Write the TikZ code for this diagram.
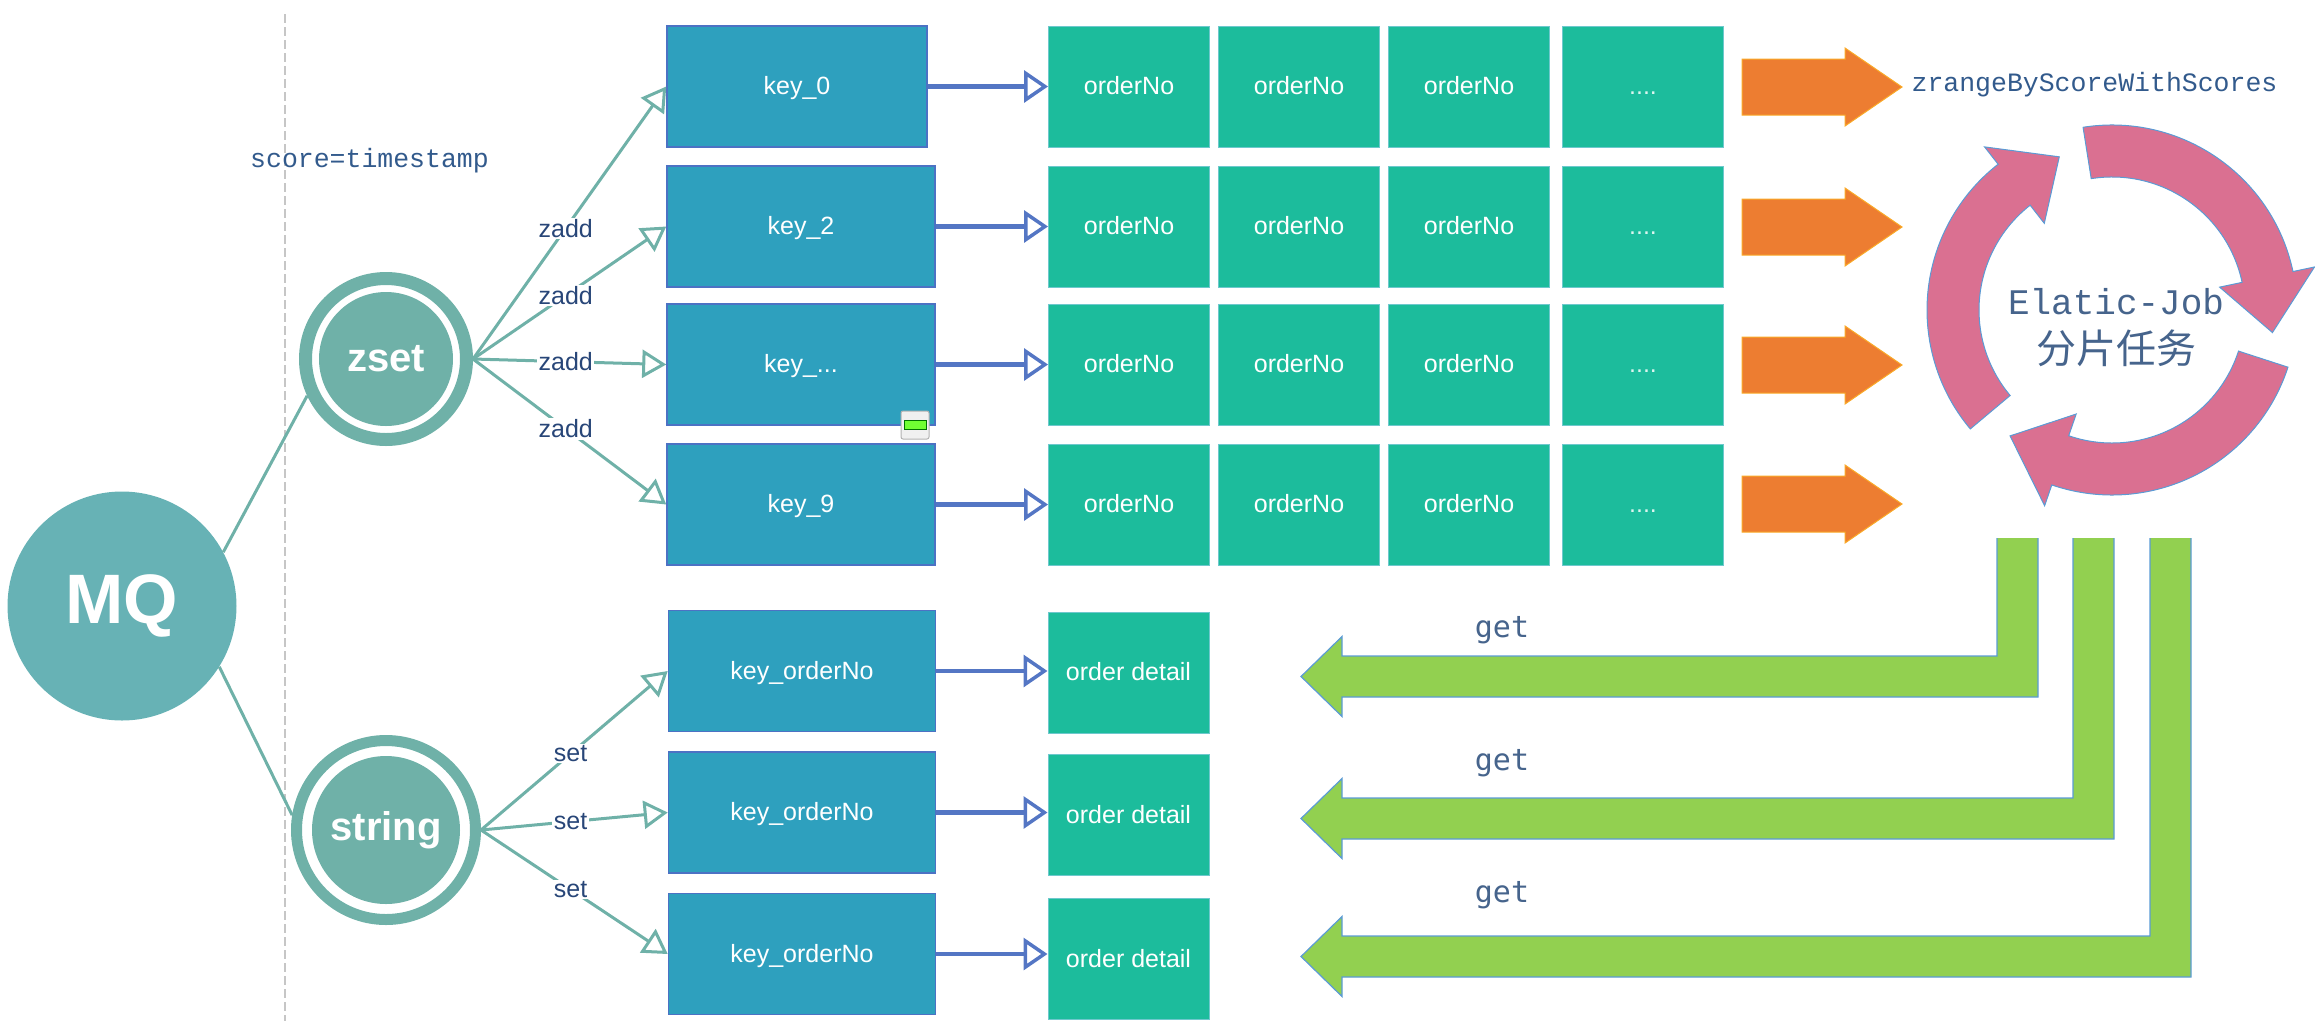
\documentclass[tikz,border=0pt]{standalone}
\usepackage{fontspec}
\setmainfont{Liberation Sans}
\newfontfamily\monofont{Liberation Mono}
\newfontfamily\getfont{DejaVu Sans Mono}
\newfontfamily\cjkfont{Noto Sans CJK SC}
\usetikzlibrary{arrows.meta}
\definecolor{tealc}{RGB}{111,177,168}
\definecolor{mqc}{RGB}{103,178,181}
\definecolor{keyc}{RGB}{46,160,190}
\definecolor{keyedge}{RGB}{76,114,196}
\definecolor{ordc}{RGB}{28,188,156}
\definecolor{ordedge}{RGB}{110,200,205}
\definecolor{linkc}{RGB}{84,118,196}
\definecolor{labc}{RGB}{40,70,120}
\definecolor{codec}{RGB}{50,90,140}
\definecolor{getc}{RGB}{70,100,140}
\definecolor{orangec}{RGB}{237,125,49}
\definecolor{orangeedge}{RGB}{250,170,40}
\definecolor{pinkc}{RGB}{218,112,145}
\definecolor{greenc}{RGB}{146,208,80}
\definecolor{shapeedge}{RGB}{91,155,213}
\begin{document}
\begin{tikzpicture}[x=1pt,y=-1pt,
  hub/.style={circle, inner sep=0pt, text=white, font=\bfseries\fontsize{40}{44}\selectfont},
  keybox/.style={rectangle, inner sep=0pt, fill=keyc, draw=keyedge, line width=1.5pt,
    text=white, font=\fontsize{25}{30}\selectfont, text height=16pt, text depth=0pt,
    minimum width=268pt, minimum height=121pt},
  ordbox/.style={rectangle, inner sep=0pt, fill=ordc, draw=ordedge, line width=1pt,
    text=white, font=\fontsize{25}{30}\selectfont, text height=16pt, text depth=0pt,
    minimum width=161pt, minimum height=121pt},
  feed/.style={draw=tealc, line width=3pt, -{Triangle[open, length=24pt, width=28pt, line width=3pt]}},
  link/.style={draw=linkc, line width=4.5pt, -{Triangle[open, length=24pt, width=32pt, line width=3.5pt]}},
  oplabel/.style={fill=white, inner sep=1.5pt, text=labc, font=\fontsize{25}{30}\selectfont},
  codetext/.style={text=codec, font=\monofont\fontsize{26.5}{30}\selectfont},
  gettext/.style={text=getc, font=\getfont\fontsize{30}{34}\selectfont},
  wire/.style={draw=tealc, line width=3pt}
]
\useasboundingbox (0,0) rectangle (2315,1021);

% dashed divider
\coordinate (divtop) at (285,14);
\coordinate (divbot) at (285,1021);
\draw[gray!45, line width=2pt, dash pattern=on 9pt off 4pt] (divtop) -- (divbot);

\node[codetext] (scorelbl) at (369.5,161) {score=timestamp};

% hubs
\node[hub, fill=mqc, minimum size=229pt, font=\bfseries\fontsize{70}{74}\selectfont] (MQ) at (122,606) {MQ};
\node[hub, draw=tealc, line width=13pt, minimum size=161pt,
  path picture={\fill[tealc] (path picture bounding box.center) circle[radius=67pt];}] (zset) at (386,359) {zset};
\node[hub, draw=tealc, line width=11pt, minimum size=179pt,
  path picture={\fill[tealc] (path picture bounding box.center) circle[radius=74pt];}] (string) at (386,830) {string};

% sorted-set keys and their members
\node[keybox, minimum width=260pt] (key0) at (797,86.5) {key\_0};
\node[keybox] (key2) at (801,226.5) {key\_2};
\node[keybox] (keyx) at (801,364.5) {key\_...};
\node[keybox] (key9) at (801,504.5) {key\_9};
\foreach \r/\y in {0/86.5, 1/226.5, 2/364.5, 3/504.5} {
  \foreach \c/\x in {0/1129, 1/1299, 2/1469} {
    \node[ordbox] (on\r\c) at (\x,\y) {orderNo};
  }
  \node[ordbox, text=white!85!ordc] (on\r3) at (1643,\y) {....};
}

% string keys and details
\node[keybox, minimum width=267pt] (ko1) at (802,671) {key\_orderNo};
\node[keybox, minimum width=267pt] (ko2) at (802,812.5) {key\_orderNo};
\node[keybox, minimum width=267pt] (ko3) at (802,954) {key\_orderNo};
\node[ordbox] (od1) at (1128.5,672.5) {order detail};
\node[ordbox] (od2) at (1128.5,815) {order detail};
\node[ordbox] (od3) at (1128.5,959) {order detail};

% small toggle icon
\draw[gray!60, fill=gray!12, rounded corners=2pt, line width=1pt] (901,411) rectangle (929,439);
\draw[fill=green!60!lime!80, draw=green!45!black, line width=0.8pt] (904,420) rectangle (926,429);

% connectors
\draw[wire] (MQ.28) -- (zset.205);
\draw[wire] (MQ.-32) -- (string.171);
\draw[feed] (zset.east) -- node[oplabel, pos=0.48] {zadd} (key0.west);
\draw[feed] (zset.east) -- node[oplabel, pos=0.48] {zadd} (key2.west);
\draw[feed] (zset.east) -- node[oplabel, pos=0.48] {zadd} (keyx.west);
\draw[feed] (zset.east) -- node[oplabel, pos=0.48] {zadd} (key9.west);
\draw[feed] (string.east) -- node[oplabel, pos=0.48] {set} (ko1.west);
\draw[feed] (string.east) -- node[oplabel, pos=0.48] {set} (ko2.west);
\draw[feed] (string.east) -- node[oplabel, pos=0.48] {set} (ko3.west);
\draw[link] (key0) -- (on00);
\draw[link] (key2) -- (on10);
\draw[link] (keyx) -- (on20);
\draw[link] (key9) -- (on30);
\draw[link] (ko1.east) -- (ko1.east -| od1.west);
\draw[link] (ko2.east) -- (ko2.east -| od2.west);
\draw[link] (ko3.east) -- (ko3.east -| od3.west);

% orange block arrows
\foreach \y in {87,227,365,504} {
  \filldraw[fill=orangec, draw=orangeedge, line width=1pt]
    (1742,\y-28) -- (1845,\y-28) -- (1845,\y-39) -- (1902,\y) -- (1845,\y+39)
    -- (1845,\y+28) -- (1742,\y+28) -- cycle;
}
\node[codetext] (zrlbl) at (2094.5,85) {zrangeByScoreWithScores};

% circular job arrows
\begin{scope}[shift={(2112,310)}]
  \foreach \t/\h/\p in {99/12/-8, -18/-109/-129, -140/-232/-251} {
    \filldraw[fill=pinkc, draw=shapeedge, line width=1pt]
      (\t:185pt) arc[start angle=\t, end angle=\h, radius=185pt]
      -- (\h:207pt) -- (\p:162pt) -- (\h:110pt) -- (\h:133pt)
      arc[start angle=\h, end angle=\t, radius=133pt] -- cycle;
  }
\end{scope}
\node[text=getc, font=\monofont\fontsize{36}{40}\selectfont] (jobname) at (2116,302) {Elatic-Job};
\node[text=getc, font=\cjkfont\fontsize{40}{44}\selectfont] (jobcn) at (2116,348) {分片任务};

% green return arrows
\foreach \xl/\yt/\ty in {1997/656/676.5, 2073/798/818.5, 2150/936/956.5} {
  \fill[greenc] (\xl,538) -- (\xl+41,538) -- (\xl+41,\yt+41) -- (1342,\yt+41)
    -- (1342,\ty+40) -- (1301,\ty) -- (1342,\ty-40) -- (1342,\yt) -- (\xl,\yt) -- cycle;
  \draw[shapeedge, line width=1.2pt] (\xl+41,538) -- (\xl+41,\yt+41) -- (1342,\yt+41)
    -- (1342,\ty+40) -- (1301,\ty) -- (1342,\ty-40) -- (1342,\yt) -- (\xl,\yt) -- (\xl,538);
}
\node[gettext] (get1) at (1502,630) {get};
\node[gettext] (get2) at (1502,763) {get};
\node[gettext] (get3) at (1502,895) {get};
\end{tikzpicture}
\end{document}
